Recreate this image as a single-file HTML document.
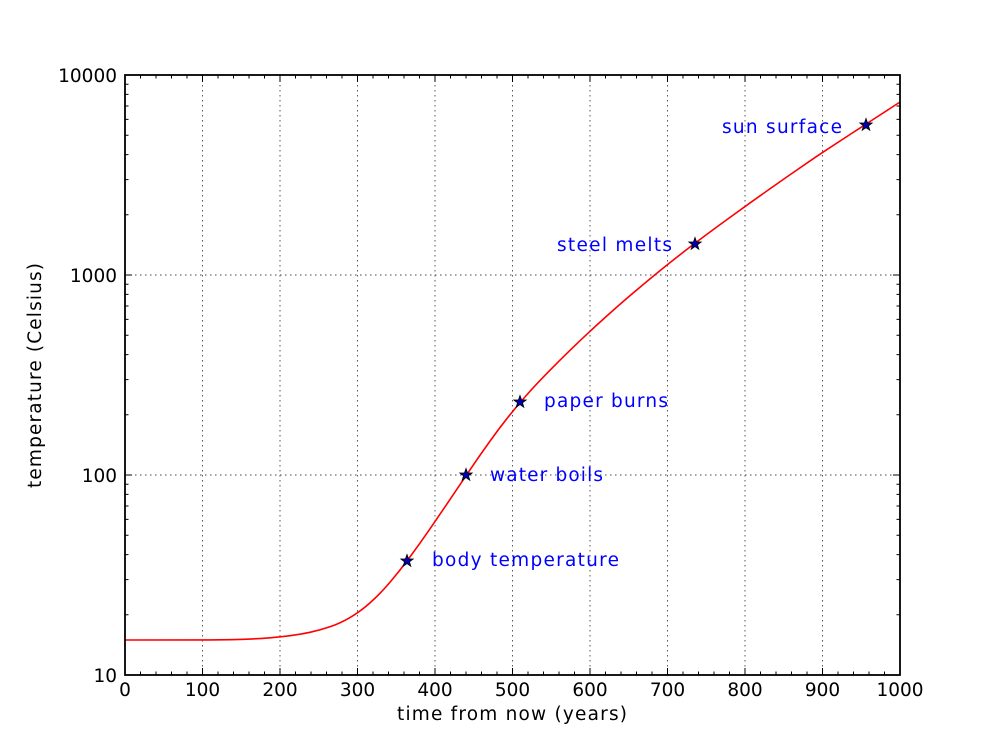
<!DOCTYPE html>
<html><head><meta charset="utf-8"><style>
html,body{margin:0;padding:0;background:#fff;}
svg{display:block;}
text{font-family:"DejaVu Sans","Liberation Sans",sans-serif;font-size:18.5px;}
</style></head><body>
<svg width="1000" height="750" viewBox="0 0 1000 750" xmlns="http://www.w3.org/2000/svg">
<rect width="1000" height="750" fill="#fff"/>
<!-- grid -->
<g stroke="#444" stroke-width="0.9" stroke-dasharray="1.5,3.5" fill="none">
<path d="M202.5 75V675M280 75V675M357.5 75V675M435 75V675M512.5 75V675M590 75V675M667.5 75V675M745 75V675M822.5 75V675"/>
<path d="M125 475H900M125 275H900"/>
</g>
<!-- curve -->
<path fill="none" stroke="#ff0000" stroke-width="1.6" stroke-linejoin="round" d="M125,640 L210,639.95 Q220,639.9 230,639.7 Q240,639.5 250,639.05 Q260,638.6 270,637.8 Q280,637 290,635.7 Q300,634.4 310,632.3 Q320,630.2 330,626.8 Q340,623.4 350,617.55 Q360,611.7 370,602.85 Q380,594 390,582.25 Q400,570.5 410,556.9 Q420,543.3 430,528.8 Q440,514.3 450,499.4 Q460,484.5 470,469.8 Q480,455.1 490,441.15 Q500,427.2 510,414.7 Q520,402.2 530,391.25 Q540,380.3 550,370.15 Q560,360 570,350.3 Q580,340.6 590,331.3 Q600,322 610,313.1 Q620,304.2 630,295.65 Q640,287.1 650,278.85 Q660,270.6 670,262.65 Q680,254.7 690,247.05 Q700,239.4 710,232 Q720,224.6 730,217.35 Q740,210.1 750,202.95 Q760,195.8 770,188.75 Q780,181.7 790,174.75 Q800,167.8 810,160.93 Q820,154.05 830,147.53 Q840,141 850,134.5 Q860,128 870,121.5 Q880,115 890,108.5 L900,102"/>
<!-- ticks -->
<g stroke="#000" stroke-width="1" fill="none">
<path d="M202.5 675v-7M280 675v-7M357.5 675v-7M435 675v-7M512.5 675v-7M590 675v-7M667.5 675v-7M745 675v-7M822.5 675v-7"/>
<path d="M202.5 75v7M280 75v7M357.5 75v7M435 75v7M512.5 75v7M590 75v7M667.5 75v7M745 75v7M822.5 75v7"/>
<path d="M125 475h7M125 275h7M900 475h-7M900 275h-7"/>
<path d="M140.5 675v-3.5M156 675v-3.5M171.5 675v-3.5M187 675v-3.5M218 675v-3.5M233.5 675v-3.5M249 675v-3.5M264.5 675v-3.5M295.5 675v-3.5M311 675v-3.5M326.5 675v-3.5M342 675v-3.5M373 675v-3.5M388.5 675v-3.5M404 675v-3.5M419.5 675v-3.5M450.5 675v-3.5M466 675v-3.5M481.5 675v-3.5M497 675v-3.5M528 675v-3.5M543.5 675v-3.5M559 675v-3.5M574.5 675v-3.5M605.5 675v-3.5M621 675v-3.5M636.5 675v-3.5M652 675v-3.5M683 675v-3.5M698.5 675v-3.5M714 675v-3.5M729.5 675v-3.5M760.5 675v-3.5M776 675v-3.5M791.5 675v-3.5M807 675v-3.5M838 675v-3.5M853.5 675v-3.5M869 675v-3.5M884.5 675v-3.5"/>
<path d="M140.5 75v3.5M156 75v3.5M171.5 75v3.5M187 75v3.5M218 75v3.5M233.5 75v3.5M249 75v3.5M264.5 75v3.5M295.5 75v3.5M311 75v3.5M326.5 75v3.5M342 75v3.5M373 75v3.5M388.5 75v3.5M404 75v3.5M419.5 75v3.5M450.5 75v3.5M466 75v3.5M481.5 75v3.5M497 75v3.5M528 75v3.5M543.5 75v3.5M559 75v3.5M574.5 75v3.5M605.5 75v3.5M621 75v3.5M636.5 75v3.5M652 75v3.5M683 75v3.5M698.5 75v3.5M714 75v3.5M729.5 75v3.5M760.5 75v3.5M776 75v3.5M791.5 75v3.5M807 75v3.5M838 75v3.5M853.5 75v3.5M869 75v3.5M884.5 75v3.5"/>
<path d="M125 614.8h3.5M125 579.6h3.5M125 554.6h3.5M125 535.2h3.5M125 519.4h3.5M125 506h3.5M125 494.4h3.5M125 484.2h3.5M125 414.8h3.5M125 379.6h3.5M125 354.6h3.5M125 335.2h3.5M125 319.4h3.5M125 306h3.5M125 294.4h3.5M125 284.2h3.5M125 214.8h3.5M125 179.6h3.5M125 154.6h3.5M125 135.2h3.5M125 119.4h3.5M125 106h3.5M125 94.4h3.5M125 84.2h3.5"/>
<path d="M900 614.8h-3.5M900 579.6h-3.5M900 554.6h-3.5M900 535.2h-3.5M900 519.4h-3.5M900 506h-3.5M900 494.4h-3.5M900 484.2h-3.5M900 414.8h-3.5M900 379.6h-3.5M900 354.6h-3.5M900 335.2h-3.5M900 319.4h-3.5M900 306h-3.5M900 294.4h-3.5M900 284.2h-3.5M900 214.8h-3.5M900 179.6h-3.5M900 154.6h-3.5M900 135.2h-3.5M900 119.4h-3.5M900 106h-3.5M900 94.4h-3.5M900 84.2h-3.5"/>
</g>
<!-- frame -->
<rect x="125" y="75" width="775" height="600" fill="none" stroke="#000" stroke-width="1.8"/>
<!-- stars -->
<g fill="#0000b0" stroke="#000" stroke-width="0.8" stroke-linejoin="miter">
<polygon transform="translate(407,561)" points="0,-6.5 1.53,-2.1 6.18,-2.01 2.47,0.8 3.82,5.26 0,2.6 -3.82,5.26 -2.47,0.8 -6.18,-2.01 -1.53,-2.1"/>
<polygon transform="translate(466,475)" points="0,-6.5 1.53,-2.1 6.18,-2.01 2.47,0.8 3.82,5.26 0,2.6 -3.82,5.26 -2.47,0.8 -6.18,-2.01 -1.53,-2.1"/>
<polygon transform="translate(520,402)" points="0,-6.5 1.53,-2.1 6.18,-2.01 2.47,0.8 3.82,5.26 0,2.6 -3.82,5.26 -2.47,0.8 -6.18,-2.01 -1.53,-2.1"/>
<polygon transform="translate(695,244)" points="0,-6.5 1.53,-2.1 6.18,-2.01 2.47,0.8 3.82,5.26 0,2.6 -3.82,5.26 -2.47,0.8 -6.18,-2.01 -1.53,-2.1"/>
<polygon transform="translate(866,125)" points="0,-6.5 1.53,-2.1 6.18,-2.01 2.47,0.8 3.82,5.26 0,2.6 -3.82,5.26 -2.47,0.8 -6.18,-2.01 -1.53,-2.1"/>
</g>
<!-- annotations -->
<g fill="#0000ff">
<text x="432" y="566" textLength="187" lengthAdjust="spacing">body temperature</text>
<text x="490" y="481" textLength="113" lengthAdjust="spacing">water boils</text>
<text x="544" y="407" textLength="124" lengthAdjust="spacing">paper burns</text>
<text x="557" y="251" textLength="115" lengthAdjust="spacing">steel melts</text>
<text x="722" y="133" textLength="120" lengthAdjust="spacing">sun surface</text>
</g>
<!-- tick labels -->
<g fill="#000" text-anchor="middle">
<text x="125" y="696">0</text>
<text x="202.5" y="696">100</text>
<text x="280" y="696">200</text>
<text x="357.5" y="696">300</text>
<text x="435" y="696">400</text>
<text x="512.5" y="696">500</text>
<text x="590" y="696">600</text>
<text x="667.5" y="696">700</text>
<text x="745" y="696">800</text>
<text x="822.5" y="696">900</text>
<text x="900" y="696">1000</text>
</g>
<g fill="#000" text-anchor="end">
<text x="117" y="682">10</text>
<text x="117" y="482">100</text>
<text x="117" y="282">1000</text>
<text x="117" y="82">10000</text>
</g>
<text x="397" y="720" fill="#000" textLength="230" lengthAdjust="spacing">time from now (years)</text>
<text transform="translate(41,375.5) rotate(-90)" x="-112.5" y="0" fill="#000" textLength="225" lengthAdjust="spacing">temperature (Celsius)</text>
</svg>
</body></html>
